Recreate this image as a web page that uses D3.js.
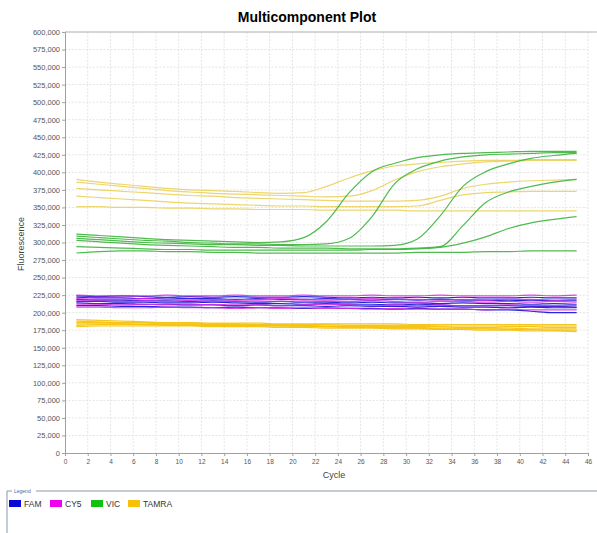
<!DOCTYPE html>
<html>
<head>
<meta charset="utf-8">
<script src="https://cdn.jsdelivr.net/npm/d3@7"></script>
<style>
	body { margin: 0; background: #fff; }
	svg { display: block; font-family: Arial, "Liberation Sans", sans-serif; }
	.grid line { stroke: #e4e4e4; stroke-dasharray: 2,1.5; }
	.axis path, .axis line { stroke: #a0a0a0; }
	.axis text { fill: #555; font-size: 7.5px; }
	.trace { fill: none; stroke-width: 1.2; stroke-linejoin: round; }
</style>
</head>
<body>
<svg id="chart" width="597" height="533"></svg>
<script>
// cycles (every other cycle)
const cycles = [1,3,5,7,9,11,13,15,17,19,21,23,25,27,29,31,33,35,37,39,41,43,45]

// fluorescence, in thousands
const famValues = [
	[224,223,224,223,222,223,222,223,222,222,223,222,221,222,221,222,221,222,221,221,222,221,221],
	[222,221,221,220,221,220,220,219,220,219,219,220,219,218,219,218,219,218,218,217,218,217,217],
	[219,218,218,217,217,216,217,216,215,216,215,215,214,215,214,214,213,214,213,213,212,213,212],
	[216,216,215,215,214,214,215,214,213,213,212,213,212,212,211,212,211,210,210,210,209,209,208],
	[214,213,213,212,212,211,211,210,211,210,210,209,210,209,209,208,209,208,208,207,208,207,207],
	[210,210,209,209,208,208,207,208,207,207,206,207,206,206,205,206,205,205,204,204,202,200,200],
]
const cy5Values = [
	[225,224,224,224,225,224,224,225,224,224,225,224,224,225,224,224,225,224,224,224,225,224,225],
	[220,219,219,220,219,218,219,218,219,220,219,218,219,220,219,219,218,219,218,219,219,218,219],
	[217,217,216,217,216,217,216,216,217,216,217,216,216,217,216,215,216,216,215,216,215,216,215],
	[212,212,211,212,211,211,212,211,211,210,211,212,211,210,211,210,211,210,210,211,210,210,210],
	[208,208,207,207,208,207,207,206,207,206,207,206,206,205,206,205,205,205,204,205,204,204,204],
]
const vicValues = [
	[312,310,308,306,304,303,302,301,300,301,307,330,371,401,413,421,425,427,428,429,430,430,430],
	[309,307,305,303,302,300,299,298,298,297,297,298,306,337,384,405,416,422,425,426,427,428,428],
	[306,304,302,300,299,298,297,297,296,296,295,295,295,295,296,305,338,380,401,412,420,424,427],
	[303,301,299,297,296,295,294,293,293,292,292,292,291,291,291,292,294,324,357,372,380,386,390],
	[294,293,292,291,290,290,289,289,289,289,289,289,289,290,290,291,293,299,308,320,328,333,337],
	[285,287,288,288,287,287,286,286,285,285,285,285,285,285,285,286,286,286,287,287,288,288,288],
]
// upper, paler TAMRA traces
const tamraHighValues = [
	[390,386,383,380,377,375,374,373,371,370,371,380,392,402,409,412,414,416,417,417,418,418,418],
	[386,383,380,377,374,372,370,369,368,367,366,365,366,374,389,401,408,412,415,416,417,417,417],
	[377,375,373,371,369,367,366,364,363,362,361,360,359,359,359,360,366,377,383,386,388,389,390],
	[366,364,362,360,358,356,355,354,353,352,352,351,351,351,351,352,360,368,371,372,373,373,373],
	[351,351,350,350,349,349,348,348,347,347,347,346,346,346,346,345,345,345,345,345,345,345,345],
]
const tamraLowValues = [
	[190,189,188,187,186,186,185,185,185,184,184,184,184,184,184,183,183,183,183,183,183,183,183],
	[188,187,186,186,185,185,184,184,183,183,183,183,182,182,182,182,181,181,181,181,181,181,181],
	[186,186,185,185,184,184,183,183,182,182,182,181,181,181,180,180,180,179,179,180,180,179,179],
	[184,184,184,183,183,183,182,182,182,181,181,180,180,180,179,179,178,178,178,178,177,177,177],
	[182,183,183,183,182,182,182,181,181,181,180,180,179,179,178,178,177,177,177,176,176,175,175],
	[180,181,181,181,181,181,180,180,180,179,179,178,178,178,177,177,176,176,175,175,174,174,173],
]

const legendNames = ["FAM", "CY5", "VIC", "TAMRA"]
const legendColors = ["#0a0ad8", "#f000f0", "#12c012", "#f7c10a"]

const xTicks = d3.range(0, 47, 2)
const yTicks = d3.range(0, 600001, 25000)

const svg = d3.select("#chart")
const plot = {left: 65, right: 588, top: 32, bottom: 453}

const x = d3.scaleLinear().domain([0, 46]).range([plot.left, plot.right])
const y = d3.scaleLinear().domain([0, 600000]).range([plot.bottom, plot.top])

// grid
const grid = svg.append("g").classed("grid", true)
grid.selectAll("line.v").data(xTicks.slice(1)).join("line")
	.attr("x1", d => x(d)).attr("x2", d => x(d))
	.attr("y1", plot.top).attr("y2", plot.bottom)
grid.selectAll("line.h").data(yTicks.slice(1)).join("line")
	.attr("x1", plot.left).attr("x2", plot.right)
	.attr("y1", d => y(d)).attr("y2", d => y(d))

// top border of the plot
svg.append("line")
	.attr("x1", plot.left).attr("x2", 597)
	.attr("y1", plot.top).attr("y2", plot.top)
	.attr("stroke", "#b4b4b4")

svg.append("g").classed("axis", true)
	.attr("transform", `translate(${plot.left},0)`)
	.call(d3.axisLeft(y).tickValues(yTicks).tickSize(3).tickPadding(2).tickFormat(d3.format(",")))

svg.append("g").classed("axis", true)
	.attr("transform", `translate(0,${plot.bottom})`)
	.call(d3.axisBottom(x).tickValues(xTicks).tickSize(3).tickPadding(3))
	.selectAll("text").style("font-size", "6.5px")

svg.selectAll(".axis .domain").attr("stroke", "#9a9a9a")

// traces
const line = d3.line()
	.x((d, i) => x(cycles[i]))
	.y(d => y(d * 1000))
	.curve(d3.curveMonotoneX)

const traces = svg.append("g")
function drawGroup(values, color, width, opacity) {
	traces.append("g").selectAll("path")
		.data(values).join("path")
		.classed("trace", true)
		.attr("d", line)
		.attr("stroke", color)
		.attr("stroke-width", width)
		.attr("stroke-opacity", opacity)
}
drawGroup(tamraLowValues, "#f5c10a", 2.6, 0.9)
drawGroup(famValues, "#1c1cd6", 2.1, 0.95)
drawGroup(cy5Values, "#d828e0", 1.7, 0.85)
drawGroup(tamraHighValues, "#e9cf55", 1.3, 0.85)
drawGroup(vicValues, "#3cb43c", 1.3, 0.9)

// titles
svg.append("text")
	.attr("x", 307).attr("y", 22)
	.attr("text-anchor", "middle")
	.style("font-size", "14px").style("font-weight", "bold")
	.text("Multicomponent Plot")

svg.append("text")
	.attr("x", 334).attr("y", 478)
	.attr("text-anchor", "middle")
	.style("font-size", "9px").attr("fill", "#444")
	.text("Cycle")

svg.append("text")
	.attr("transform", "translate(24,244) rotate(-90)")
	.attr("text-anchor", "middle")
	.style("font-size", "9px").attr("fill", "#444")
	.text("Fluorescence")

// legend, drawn like a titled border
const legend = svg.append("g")
legend.append("path")
	.attr("d", "M 12 491 L 7 491 L 7 533 M 36 491 L 597 491")
	.attr("fill", "none").attr("stroke", "#8c98a6")
legend.append("text")
	.attr("x", 14).attr("y", 493)
	.style("font-size", "5px").attr("fill", "#4a6a9a")
	.text("Legend")

const legendX = [9, 50, 91, 128]
const items = legend.selectAll("g.item")
	.data(legendNames).join("g")
	.attr("transform", (d, i) => `translate(${legendX[i]},500)`)
items.append("rect")
	.attr("width", 12).attr("height", 7)
	.attr("fill", (d, i) => legendColors[i])
items.append("text")
	.attr("x", 15).attr("y", 7)
	.style("font-size", "8.5px").attr("fill", "#333")
	.text(d => d)
</script>
</body>
</html>
